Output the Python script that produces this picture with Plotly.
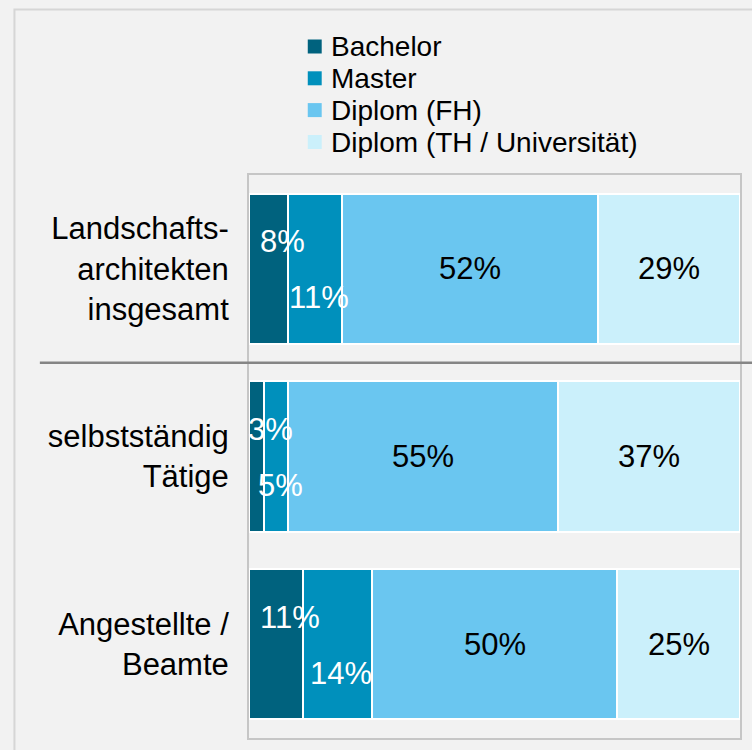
import plotly.graph_objects as go

categories = ["Landschafts-<br>architekten<br>insgesamt", "selbstständig<br>Tätige", "Angestellte /<br>Beamte"]
series_names = ["Bachelor", "Master", "Diplom (FH)", "Diplom (TH / Universität)"]
bachelor = [8, 3, 11]
master = [11, 5, 14]
diplom_fh = [52, 55, 50]
diplom_th = [29, 37, 25]

colors = ["#00627e", "#0090bc", "#6ac6f0", "#cbf0fb"]
label_colors = ["white", "white", "black", "black"]
label_yshift = [27, -29, 0, 0]
label_xshift = [14, 4, 0, 0]

series = [bachelor, master, diplom_fh, diplom_th]
FONT = "Liberation Sans, Arial, sans-serif"

W, H = 752, 750
L, R, T, B = 249, 10, 175, 12
pw, ph = W - L - R, H - T - B

def px_x(p):
    return (p - L) / pw

def px_y(p):
    return (H - B - p) / ph

fig = go.Figure()
for name, vals, col in zip(series_names, series, colors):
    fig.add_trace(go.Bar(
        y=categories, x=vals, name=name, orientation="h",
        marker=dict(color=col, line=dict(color="white", width=2)),
        hoverinfo="skip", showlegend=False,
    ))

annotations = []
for ci, cat in enumerate(categories):
    start = 0
    for si, vals in enumerate(series):
        v = vals[ci]
        annotations.append(dict(
            x=start + v / 2, y=cat, xref="x", yref="y",
            text=f"{v}%", showarrow=False,
            font=dict(family=FONT, size=31, color=label_colors[si]),
            xshift=label_xshift[si], yshift=label_yshift[si],
        ))
        start += v

# custom legend
legend_y = [46.5, 78.3, 110.1, 142]
shapes = []
for name, col, yy in zip(series_names, colors, legend_y):
    shapes.append(dict(type="rect", xref="paper", yref="paper",
                       x0=px_x(308), x1=px_x(322), y0=px_y(yy + 7), y1=px_y(yy - 7),
                       fillcolor=col, line=dict(width=0)))
    annotations.append(dict(x=px_x(330), y=px_y(yy), xref="paper", yref="paper",
                            xanchor="left", yanchor="middle", showarrow=False,
                            text=name, borderpad=0,
                            font=dict(family=FONT, size=28, color="black")))

# outer frame
shapes.append(dict(type="rect", xref="paper", yref="paper",
                   x0=px_x(13.5), x1=1.6, y0=-0.5, y1=px_y(9.5),
                   line=dict(color="#d6d6d6", width=2), layer="below"))
# separator between total and subgroups
shapes.append(dict(type="line", xref="paper", yref="y",
                   x0=px_x(39), x1=px_x(760), y0=0.5, y1=0.5,
                   line=dict(color="#858585", width=2.5)))

fig.update_layout(
    width=W, height=H, barmode="stack", bargap=0.2,
    margin=dict(l=L, r=R, t=T, b=B),
    paper_bgcolor="#f2f2f2", plot_bgcolor="#f2f2f2",
    font=dict(family=FONT, size=31, color="black"),
    annotations=annotations, shapes=shapes,
    xaxis=dict(range=[0, 100], showgrid=False, zeroline=False, showticklabels=False,
               showline=True, mirror=True, linecolor="#c6c6c6", linewidth=2,
               layer="below traces", fixedrange=True),
    yaxis=dict(range=[2.5, -0.5], showgrid=False, zeroline=False,
               showline=True, mirror=True, linecolor="#c6c6c6", linewidth=2,
               layer="below traces", ticks="outside", ticklen=12, tickcolor="rgba(0,0,0,0)",
               tickfont=dict(family=FONT, size=31, color="black"), fixedrange=True),
)

fig.write_html("out.html", config={"displayModeBar": False})
